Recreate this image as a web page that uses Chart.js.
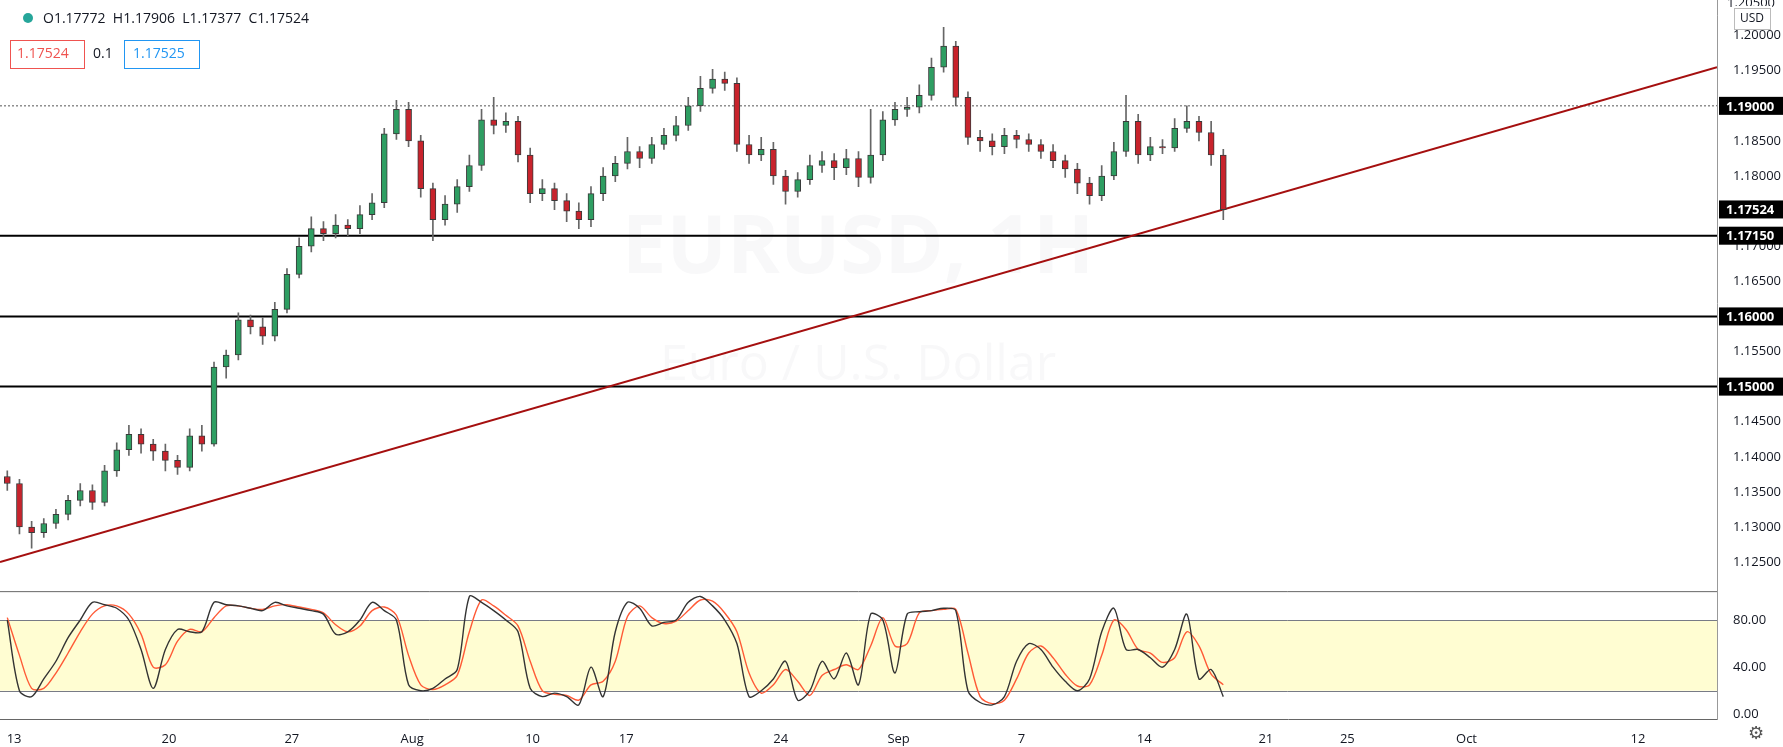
<!DOCTYPE html>
<html>
<head>
<meta charset="utf-8">
<script src="https://cdn.jsdelivr.net/npm/chart.js@4"></script>
<style>
  html, body { margin: 0; padding: 0; background: #fff; }
  #wrap { width: 1783px; height: 747px; }
</style>
</head>
<body>
<div id="wrap"><canvas id="chart"></canvas></div>
<script>
// EURUSD candles, ~2 per trading day, Jul 13 - Sep 18
const opens = [1.1372,1.1362,1.1300,1.1292,1.1305,1.1318,1.1338,1.1352,1.1335,1.1380,1.1410,1.1432,1.1418,1.1408,1.1395,1.1385,1.1430,1.1418,1.1528,1.1545,1.1595,1.1585,1.1572,1.1610,1.1660,1.1700,1.1725,1.1718,1.1730,1.1725,1.1745,1.1762,1.1860,1.1895,1.1850,1.1782,1.1738,1.1760,1.1785,1.1815,1.1880,1.1872,1.1878,1.1830,1.1775,1.1782,1.1765,1.1750,1.1738,1.1775,1.1800,1.1818,1.1835,1.1825,1.1845,1.1858,1.1872,1.1900,1.1925,1.1938,1.1932,1.1845,1.1830,1.1838,1.1800,1.1778,1.1795,1.1815,1.1822,1.1812,1.1825,1.1798,1.1830,1.1880,1.1895,1.1898,1.1915,1.1955,1.1985,1.1912,1.1855,1.1850,1.1842,1.1858,1.1852,1.1845,1.1835,1.1822,1.1810,1.1790,1.1772,1.1800,1.1835,1.1878,1.1830,1.1842,1.1840,1.1868,1.1878,1.1862,1.1830];
const closes = [1.1362,1.1300,1.1292,1.1305,1.1318,1.1338,1.1352,1.1335,1.1380,1.1410,1.1432,1.1418,1.1408,1.1395,1.1385,1.1430,1.1418,1.1528,1.1545,1.1595,1.1585,1.1572,1.1610,1.1660,1.1700,1.1725,1.1718,1.1730,1.1725,1.1745,1.1762,1.1860,1.1895,1.1850,1.1782,1.1738,1.1760,1.1785,1.1815,1.1880,1.1872,1.1878,1.1830,1.1775,1.1782,1.1765,1.1750,1.1738,1.1775,1.1800,1.1818,1.1835,1.1825,1.1845,1.1858,1.1872,1.1900,1.1925,1.1938,1.1932,1.1845,1.1830,1.1838,1.1800,1.1778,1.1795,1.1815,1.1822,1.1812,1.1825,1.1798,1.1830,1.1880,1.1895,1.1898,1.1915,1.1955,1.1985,1.1912,1.1855,1.1850,1.1842,1.1858,1.1852,1.1845,1.1835,1.1822,1.1810,1.1790,1.1772,1.1800,1.1835,1.1878,1.1830,1.1842,1.1840,1.1868,1.1878,1.1862,1.1830,1.1752];
const highs = [1.1380,1.1368,1.1308,1.1312,1.1325,1.1345,1.1362,1.1360,1.1388,1.1420,1.1445,1.1440,1.1425,1.1418,1.1402,1.1440,1.1445,1.1535,1.1552,1.1605,1.1602,1.1598,1.1620,1.1668,1.1712,1.1742,1.1735,1.1745,1.1738,1.1758,1.1775,1.1868,1.1908,1.1905,1.1858,1.1790,1.1772,1.1795,1.1830,1.1895,1.1912,1.1890,1.1885,1.1840,1.1795,1.1790,1.1775,1.1762,1.1785,1.1812,1.1828,1.1855,1.1842,1.1855,1.1868,1.1885,1.1912,1.1942,1.1952,1.1948,1.1940,1.1858,1.1855,1.1848,1.1808,1.1805,1.1830,1.1835,1.1832,1.1838,1.1835,1.1895,1.1892,1.1905,1.1912,1.1930,1.1968,1.2012,1.1992,1.1920,1.1865,1.1860,1.1868,1.1865,1.1860,1.1852,1.1845,1.1830,1.1818,1.1798,1.1815,1.1848,1.1915,1.1888,1.1855,1.1852,1.1882,1.1900,1.1885,1.1878,1.1838];
const lows = [1.1352,1.1290,1.1270,1.1285,1.1298,1.1310,1.1330,1.1325,1.1330,1.1372,1.1402,1.1405,1.1395,1.1380,1.1375,1.1380,1.1408,1.1415,1.1512,1.1538,1.1575,1.1560,1.1565,1.1605,1.1655,1.1692,1.1708,1.1712,1.1715,1.1718,1.1738,1.1755,1.1852,1.1842,1.1770,1.1708,1.1730,1.1748,1.1778,1.1808,1.1860,1.1862,1.1820,1.1762,1.1765,1.1752,1.1735,1.1725,1.1728,1.1765,1.1792,1.1810,1.1812,1.1818,1.1838,1.1850,1.1865,1.1892,1.1918,1.1922,1.1835,1.1818,1.1822,1.1788,1.1760,1.1770,1.1788,1.1805,1.1795,1.1802,1.1785,1.1790,1.1822,1.1872,1.1885,1.1890,1.1908,1.1948,1.1900,1.1845,1.1835,1.1830,1.1832,1.1840,1.1835,1.1825,1.1812,1.1798,1.1775,1.1760,1.1765,1.1795,1.1828,1.1818,1.1822,1.1832,1.1835,1.1862,1.1850,1.1815,1.1738];

// stochastic %K / %D
const stochK = [80,20,15,30,45,65,80,95,93,90,80,55,22,55,72,70,70,95,93,92,90,88,95,92,90,88,85,68,70,80,95,88,80,25,20,22,30,38,100,95,88,80,70,22,15,18,15,8,40,15,70,95,90,75,78,80,95,100,92,80,60,15,20,30,45,12,20,45,30,52,25,85,80,35,85,87,88,90,88,20,10,8,15,45,60,55,40,28,20,30,70,90,55,55,48,40,55,85,30,38,15];
const stochD = [82,50,22,22,35,52,70,85,92,92,85,68,40,42,62,72,70,82,92,92,90,89,92,93,91,89,86,76,70,75,88,91,84,50,25,21,25,33,70,97,92,84,75,45,20,17,16,12,25,28,45,83,92,82,77,79,88,97,96,86,70,35,18,25,38,28,16,33,38,42,38,58,82,58,60,86,88,89,89,52,15,9,12,30,52,58,48,34,24,25,50,80,72,55,52,44,48,70,58,34,25];

// levels and trend line
const hLevels = [1.1715, 1.16, 1.15];
const resistance = 1.19;
const trendX = [-0.6, 140.6];
const trendY = [1.1250, 1.1955];

const priceTicks = [1.125,1.13,1.135,1.14,1.145,1.15,1.155,1.16,1.165,1.17,1.175,1.18,1.185,1.19,1.195,1.2];
const stochTicks = [0, 40, 80];
const dateTicks = [0.56, 13.3, 23.4, 33.3, 43.2, 50.9, 63.6, 73.3, 83.4, 93.5, 103.5, 110.2, 120, 134.1];
const dateLabels = ["13","20","27","Aug","10","17","24","Sep","7","14","21","25","Oct","12"];
const markedPrices = ["1.19000","1.17524","1.17150","1.16000","1.15000"];

const up = "#2e9e62", down = "#c8232c";
const idx = closes.map((c, i) => i);
const col = ctx => closes[ctx.dataIndex] >= opens[ctx.dataIndex] ? up : down;

const lineDs = (xs, ys, color, width, dash) => ({
  type: "line", data: xs.map((x, i) => ({x: x, y: ys[i]})), yAxisID: "y",
  borderColor: color, borderWidth: width, borderDash: dash || [], pointRadius: 0, order: 5
});

const overlay = {
  id: "overlay",
  beforeDatasetsDraw(chart) {
    const c = chart.ctx, x = chart.scales.x, s = chart.scales.s, y = chart.scales.y;
    c.save();
    c.fillStyle = "#fffdd2";
    c.fillRect(x.left, s.getPixelForValue(80), x.width, s.getPixelForValue(20) - s.getPixelForValue(80));
    c.strokeStyle = "#787b86"; c.lineWidth = 1;
    [80, 20].forEach(v => { const p = Math.round(s.getPixelForValue(v)) + 0.5; c.beginPath(); c.moveTo(x.left, p); c.lineTo(x.right, p); c.stroke(); });
    c.strokeStyle = "#666";
    c.beginPath(); c.moveTo(x.left, y.bottom + 0.5); c.lineTo(x.right, y.bottom + 0.5); c.stroke();
    c.fillStyle = "rgba(120,120,140,0.05)";
    c.textAlign = "center"; c.textBaseline = "middle";
    c.font = "bold 80px 'Open Sans'"; c.fillText("EURUSD, 1H", 858, 250);
    c.font = "50px 'Open Sans'"; c.fillText("Euro / U.S. Dollar", 858, 366);
    c.restore();
  },
  afterDraw(chart) {
    const c = chart.ctx, y = chart.scales.y;
    c.save();
    c.textBaseline = "middle";
    // white strip at top of axis + cropped top tick
    c.fillStyle = "#fff"; c.fillRect(0, 0, 1783, y.top);
    c.strokeStyle = "#999"; c.lineWidth = 1;
    c.beginPath(); c.moveTo(y.left + 0.5, 0); c.lineTo(y.left + 0.5, y.top); c.stroke();
    c.font = "13px 'Open Sans'"; c.fillStyle = "#131722"; c.textAlign = "left";
    c.fillText("1.20500", 1727, 3);
    // header
    c.fillStyle = "#26a69a"; c.beginPath(); c.arc(28, 18, 5, 0, Math.PI * 2); c.fill();
    c.font = "14px 'Open Sans'"; c.fillStyle = "#131722";
    c.fillText("O1.17772  H1.17906  L1.17377  C1.17524", 43, 19);
    c.strokeStyle = "#ef5350"; c.lineWidth = 1; c.strokeRect(10.5, 40.5, 74, 28);
    c.fillStyle = "#ef5350"; c.fillText("1.17524", 17, 54);
    c.fillStyle = "#131722"; c.fillText("0.1", 93, 54);
    c.strokeStyle = "#2196f3"; c.strokeRect(124.5, 40.5, 75, 28);
    c.fillStyle = "#2196f3"; c.fillText("1.17525", 133, 54);
    // USD
    c.fillStyle = "#fff"; c.fillRect(1734, 6, 38, 24);
    c.strokeStyle = "#bbb"; c.strokeRect(1734.5, 8.5, 36, 21);
    c.fillStyle = "#131722"; c.font = "12px 'Open Sans'"; c.fillText("USD", 1740, 19);
    // marked prices on axis
    c.font = "bold 13px 'Open Sans'";
    markedPrices.forEach(p => {
      const py = y.getPixelForValue(parseFloat(p));
      c.fillStyle = "#000"; c.fillRect(1719, py - 9, 64, 18);
      c.fillStyle = "#fff"; c.fillText(p, 1726, py + 1);
    });
    c.fillStyle = "#555"; c.font = "18px 'DejaVu Sans'"; c.fillText("\u2699", 1748, 734);
    c.restore();
  }
};

const tickFont = {family: "'Open Sans'", size: 13};
new Chart(document.getElementById("chart"), {
  type: "bar",
  data: {
    datasets: [
      { label: "wick", data: idx.map(i => ({x: i, y: [lows[i], highs[i]]})), yAxisID: "y",
        backgroundColor: "#666", barThickness: 1, grouped: false, order: 2 },
      { label: "body", data: idx.map(i => ({x: i, y: [opens[i], closes[i]]})), yAxisID: "y",
        backgroundColor: col, borderColor: "#3a3a3a", borderWidth: 1, borderSkipped: false,
        barThickness: 6, grouped: false, order: 1, minBarLength: 1 },
      lineDs(trendX, trendY, "#a50f0f", 2),
      lineDs(trendX, [resistance, resistance], "#555", 1, [2, 2]),
      ...hLevels.map(v => lineDs(trendX, [v, v], "#000", 2)),
      { type: "line", data: idx.map(i => ({x: i, y: stochD[i]})), yAxisID: "s",
        borderColor: "#ff5a36", borderWidth: 1.4, pointRadius: 0, tension: 0.3, order: 4 },
      { type: "line", data: idx.map(i => ({x: i, y: stochK[i]})), yAxisID: "s",
        borderColor: "#333", borderWidth: 1.4, pointRadius: 0, tension: 0.3, order: 3 }
    ]
  },
  options: {
    responsive: true,
    maintainAspectRatio: false,
    animation: false,
    layout: { padding: 0 },
    plugins: { legend: { display: false }, tooltip: { enabled: false } },
    scales: {
      x: {
        type: "linear", min: -0.6, max: 140.6, offset: false,
        grid: { display: false }, border: { color: "#666" },
        afterBuildTicks: sc => { sc.ticks = dateTicks.map(v => ({value: v})); },
        afterFit: sc => { sc.height = 28; },
        ticks: { autoSkip: false, maxRotation: 0, font: tickFont, color: "#131722", padding: 4,
          callback: (v, i) => dateLabels[i] }
      },
      y: {
        position: "right", stack: "v", stackWeight: 4.5, min: 1.12086, max: 1.20283,
        grid: { display: false }, border: { color: "#999" },
        afterBuildTicks: sc => { sc.ticks = priceTicks.map(v => ({value: v})); },
        afterFit: sc => { sc.width = 66; },
        ticks: { font: tickFont, color: "#131722", padding: 8, callback: v => v.toFixed(5) }
      },
      s: {
        position: "right", stack: "v", stackWeight: 1, min: -4, max: 104.5,
        grid: { display: false }, border: { color: "#999" },
        afterBuildTicks: sc => { sc.ticks = stochTicks.map(v => ({value: v})); },
        afterFit: sc => { sc.width = 66; },
        ticks: { font: tickFont, color: "#131722", padding: 8, callback: v => v.toFixed(2) }
      }
    }
  },
  plugins: [overlay]
});
</script>
</body>
</html>
